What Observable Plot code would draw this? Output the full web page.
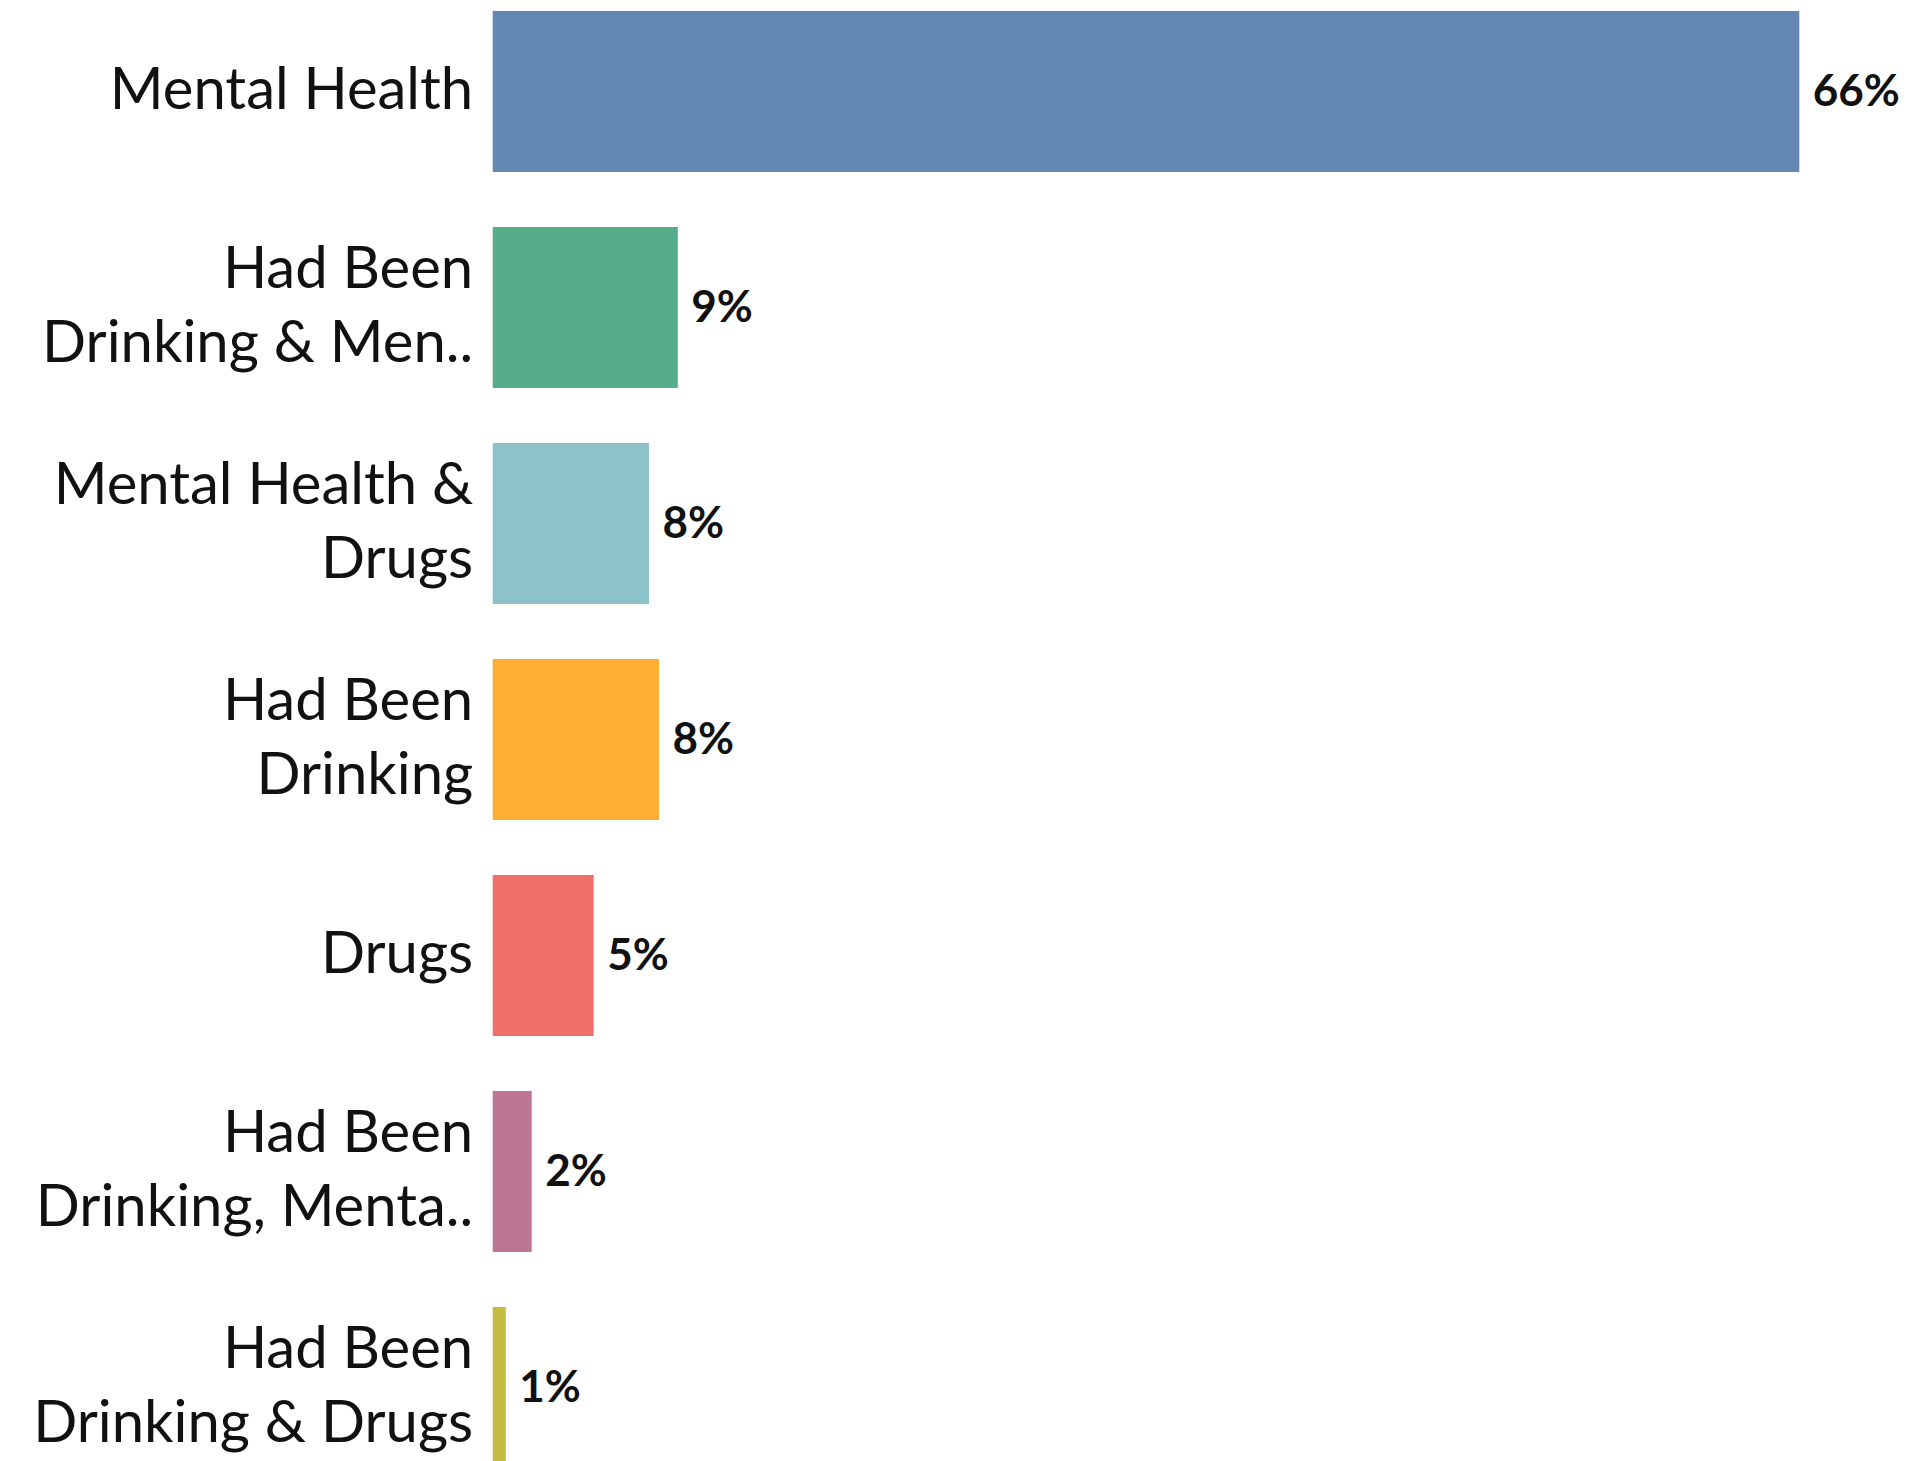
<!DOCTYPE html>
<html>
<head>
<meta charset="utf-8">
<script src="https://cdn.jsdelivr.net/npm/d3@7"></script>
<script src="https://cdn.jsdelivr.net/npm/@observablehq/plot@0.6"></script>
<style>
  html, body { margin: 0; padding: 0; background: #fff; overflow: hidden; }
  #chart svg { display: block; }
</style>
</head>
<body>
<div id="chart"></div>
<script>
const categories = [
  "Mental Health",
  "Had Been\nDrinking & Men..",
  "Mental Health &\nDrugs",
  "Had Been\nDrinking",
  "Drugs",
  "Had Been\nDrinking, Menta..",
  "Had Been\nDrinking & Drugs"
];
const values = [66.0, 9.35, 7.9, 8.4, 5.1, 1.97, 0.66];
const valueLabels = ["66%", "9%", "8%", "8%", "5%", "2%", "1%"];
const colors = ["#6388b4", "#55ad89", "#8cc2ca", "#ffae34", "#ef6f6a", "#bb7693", "#c3bc3f"];

const rows = categories.map((c, i) => ({category: c, value: values[i], label: valueLabels[i]}));

const W = 1932, H = 1461;
const step = 216.4, pad = 0.256, firstTop = 10;
const r0 = firstTop - step * pad;
const r1 = r0 + step * (categories.length + pad);

const chart = Plot.plot({
  width: W,
  height: H,
  marginTop: 0, marginBottom: 0, marginLeft: 0, marginRight: 0,
  style: {fontFamily: "Lato, sans-serif", background: "#fff", overflow: "hidden"},
  x: {domain: [0, 66], range: [492.7, 1799.3], axis: null},
  y: {domain: categories, range: [r0, r1], padding: pad, axis: null},
  color: {domain: categories, range: colors},
  marks: [
    Plot.ruleX([0], {stroke: "#f2f2f2", strokeWidth: 3, y1: -100, y2: 2000}),
    Plot.barX(rows, {x: "value", y: "category", fill: "category"}),
    Plot.text(rows, {
      x: 0, y: "category", text: "category",
      dx: -20, dy: -7, textAnchor: "end", lineAnchor: "middle", lineHeight: 1.29,
      fontSize: 58, fill: "#111", fontFamily: "Lato, sans-serif"
    }),
    Plot.text(rows, {
      x: "value", y: "category", text: "label",
      dx: 13, textAnchor: "start", fontSize: 44, fontWeight: "bold",
      fill: "#111", fontFamily: "Lato, sans-serif"
    })
  ]
});
document.getElementById("chart").appendChild(chart);
</script>
</body>
</html>
